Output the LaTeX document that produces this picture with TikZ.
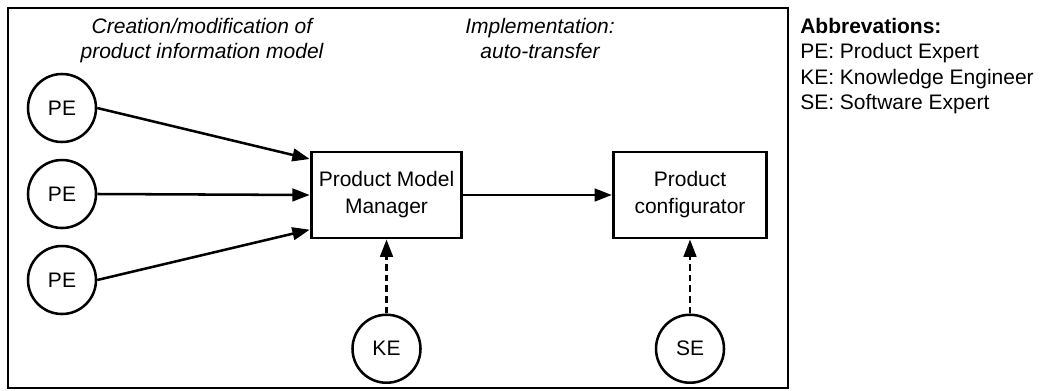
\documentclass[tikz,border=0pt]{standalone}
\usepackage{fontspec}
\setmainfont{Liberation Sans}
\usepackage{tikz}
\usetikzlibrary{calc, arrows.meta, positioning}
\tikzset{
    boxnode/.style = {draw, rectangle, line width=2.2pt, inner sep = 0em, minimum width=113pt,
      minimum height=64.5pt, font=\fontsize{15.75pt}{20.25pt}\selectfont},
    expertnode/.style = {circle, draw, line width=1.9pt, inner sep = 0em, minimum size=51pt,
      font=\fontsize{15.75pt}{18pt}\selectfont},
    titlenode/.style = {draw=none, fill=none, rectangle, inner sep = 0em, anchor=north,
      font=\fontsize{15.75pt}{18.75pt}\selectfont\itshape},
    legendnode/.style = {draw=none, fill=none, rectangle, inner sep = 0em, anchor=north west,
      every text node part/.style={align=left}, font=\fontsize{15.75pt}{19.1pt}\selectfont},
    flow/.style = {black, line width=1.9pt, -{Triangle[length=13pt, width=9.5pt]}},
    assist/.style = {flow, dash pattern=on 5pt off 3pt},
    every text node part/.style={align=center}
}

\begin{document}
\begin{tikzpicture}[x=0.75pt, y=-0.75pt]
    \useasboundingbox (0,0) rectangle (1041,390);
    \draw [line width=2pt] (8,8) rectangle (788,388);

    \node [name = PMM, boxnode] at (386.5,195) {Product Model\\Manager};
    \node [name = PC, boxnode, minimum width=115pt] at (690,195) {Product\\configurator};

    \node [name = PE1, expertnode] at (62,108) {PE};
    \node [name = PE2, expertnode] at (62,194) {PE};
    \node [name = PE3, expertnode] at (62,280) {PE};
    \node [name = KE, expertnode, below = 55.5pt of PMM] {KE};
    \node [name = SE, expertnode, below = 55.5pt of PC] {SE};

    \node [name = CreateTitle, titlenode] at (202,18) {Creation/modification of\\product information model};
    \node [name = ImplTitle, titlenode] at (540,18) {Implementation:\\auto-transfer};
    \node [name = Legend, legendnode] at (800,18)
        {\textbf{Abbrevations:}\\PE: Product Expert\\KE: Knowledge Engineer\\SE: Software Expert};

    \draw (PE1.east) edge[flow] ([yshift=27pt]PMM.west);
    \draw (PE2.east) edge[flow] (PMM.west);
    \draw (PE3.east) edge[flow] ([yshift=-26pt]PMM.west);
    \draw (PMM) edge[flow] (PC);
    \draw (KE) edge[assist] (PMM);
    \draw (SE) edge[assist] (PC);
\end{tikzpicture}
\end{document}
